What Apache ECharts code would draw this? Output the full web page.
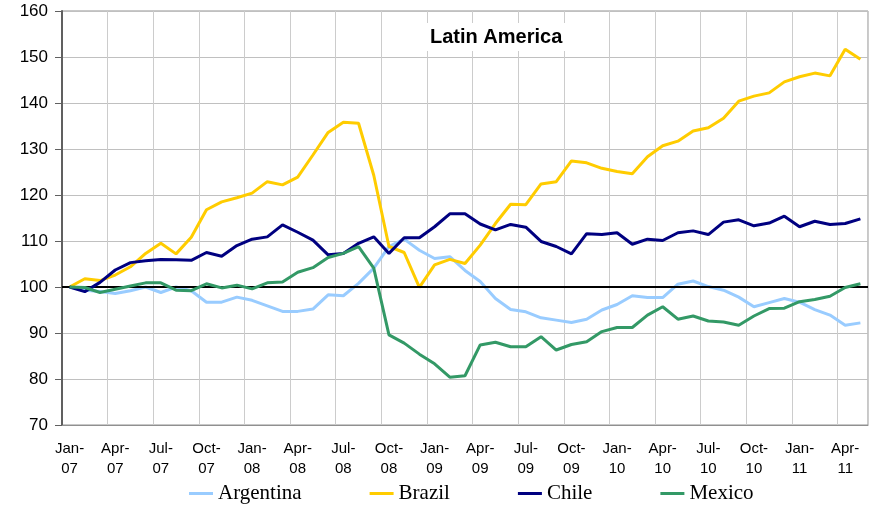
<!DOCTYPE html>
<html>
<head>
    <meta charset="utf-8">
    <title>Latin America</title>
    <script src="https://cdn.jsdelivr.net/npm/echarts@6/dist/echarts.min.js"></script>
</head>
<body style="margin:0;background:#fff;">
    <div id="main" style="width: 877px;height:507px;"></div>
    <script type="text/javascript">
        // monthly index, Jan-07 = 100
        var months = [
            'Jan-07', 'Feb-07', 'Mar-07', 'Apr-07', 'May-07', 'Jun-07', 'Jul-07', 'Aug-07', 'Sep-07', 'Oct-07', 'Nov-07', 'Dec-07',
            'Jan-08', 'Feb-08', 'Mar-08', 'Apr-08', 'May-08', 'Jun-08', 'Jul-08', 'Aug-08', 'Sep-08', 'Oct-08', 'Nov-08', 'Dec-08',
            'Jan-09', 'Feb-09', 'Mar-09', 'Apr-09', 'May-09', 'Jun-09', 'Jul-09', 'Aug-09', 'Sep-09', 'Oct-09', 'Nov-09', 'Dec-09',
            'Jan-10', 'Feb-10', 'Mar-10', 'Apr-10', 'May-10', 'Jun-10', 'Jul-10', 'Aug-10', 'Sep-10', 'Oct-10', 'Nov-10', 'Dec-10',
            'Jan-11', 'Feb-11', 'Mar-11', 'Apr-11', 'May-11'
        ];

        var argentina = [
            100, 99.3, 99.0, 98.6, 99.2, 100, 98.8, 100, 99.2, 96.7, 96.7, 97.8,
            97.1, 95.9, 94.7, 94.7, 95.2, 98.3, 98.1, 100.8, 104.1, 108.8, 110.4, 108.0,
            106.2, 106.6, 103.6, 101.2, 97.5, 95.1, 94.6, 93.3, 92.8, 92.3, 93.0, 95.0,
            96.2, 98.1, 97.7, 97.7, 100.6, 101.3, 100.1, 99.3, 97.8, 95.7, 96.6, 97.5,
            96.7, 95.1, 93.9, 91.7, 92.2
        ];
        var brazil = [
            100, 101.8, 101.4, 102.6, 104.4, 107.3, 109.5, 107.2, 110.8, 116.8, 118.5, 119.4,
            120.4, 122.9, 122.2, 123.9, 128.7, 133.6, 135.8, 135.6, 124.3, 108.8, 107.5, 99.9,
            104.8, 106.0, 105.1, 109.1, 113.8, 118.0, 117.9, 122.4, 122.9, 127.4, 127.0, 125.8,
            125.1, 124.6, 128.3, 130.7, 131.7, 133.9, 134.6, 136.7, 140.4, 141.5, 142.2, 144.6,
            145.7, 146.5, 145.9, 151.7, 149.5
        ];
        var chile = [
            100, 99.0, 101.0, 103.7, 105.3, 105.7, 106.0, 105.9, 105.8, 107.5, 106.7, 109.0,
            110.4, 110.9, 113.5, 111.9, 110.2, 107.0, 107.3, 109.5, 110.9, 107.3, 110.7, 110.7,
            113.1, 115.9, 115.9, 113.7, 112.4, 113.6, 113.0, 109.9, 108.8, 107.2, 111.6, 111.4,
            111.8, 109.3, 110.4, 110.1, 111.8, 112.2, 111.4, 114.1, 114.6, 113.3, 113.9, 115.4,
            113.1, 114.3, 113.6, 113.8, 114.8
        ];
        var mexico = [
            100, 99.9, 98.8, 99.5, 100.2, 100.9, 100.9, 99.3, 99.2, 100.7, 99.8, 100.4,
            99.6, 100.9, 101.1, 103.2, 104.2, 106.4, 107.3, 108.8, 104.1, 89.6, 87.8, 85.4,
            83.3, 80.4, 80.7, 87.4, 88.0, 87.0, 87.0, 89.2, 86.3, 87.5, 88.1, 90.3,
            91.2, 91.2, 93.9, 95.7, 93.0, 93.7, 92.6, 92.4, 91.7, 93.7, 95.3, 95.4,
            96.8, 97.3, 98.0, 99.9, 100.7
        ];

        var seriesNames = ['Argentina', 'Brazil', 'Chile', 'Mexico'];
        var seriesColors = ['#99ccff', '#ffcc00', '#000080', '#339966'];
        var seriesData = [argentina, brazil, chile, mexico];

        var myChart = echarts.init(document.getElementById('main'));

        var series = seriesNames.map(function (name, i) {
            return {
                name: name,
                type: 'line',
                data: seriesData[i],
                symbol: 'none',
                color: seriesColors[i],
                lineStyle: { width: 3, color: seriesColors[i] },
                z: 3 + i
            };
        });
        // black reference line at 100
        series[0].markLine = {
            silent: true,
            symbol: 'none',
            label: { show: false },
            lineStyle: { color: '#000', width: 2, type: 'solid' },
            data: [{ yAxis: 100 }]
        };

        var option = {
            animation: false,
            backgroundColor: '#fff',
            title: {
                text: 'Latin America',
                left: 422,
                top: 23,
                padding: [4, 8],
                backgroundColor: '#fff',
                textStyle: {
                    fontFamily: 'Liberation Sans',
                    fontSize: 20,
                    fontWeight: 'bold',
                    color: '#000'
                }
            },
            legend: {
                left: 189,
                top: 483,
                padding: 0,
                itemWidth: 24,
                itemHeight: 14,
                itemGap: 68,
                textStyle: {
                    fontFamily: 'Liberation Serif',
                    fontSize: 21,
                    color: '#000'
                },
                // line icons instead of boxes
                data: seriesNames.map(function (n, i) {
                    return { name: n, icon: 'path://M0,0 L24,0 L24,3 L0,3 Z', itemStyle: { color: seriesColors[i] } };
                })
            },
            grid: {
                left: 62,
                right: 9,
                top: 11,
                bottom: 82,
                show: true,
                borderColor: '#909090',
                borderWidth: 1
            },
            xAxis: {
                type: 'category',
                data: months,
                boundaryGap: true,
                axisLine: { lineStyle: { color: '#909090', width: 1 } },
                axisTick: { show: false },
                axisLabel: {
                    interval: 2,
                    margin: 14,
                    fontFamily: 'Liberation Sans',
                    fontSize: 15,
                    lineHeight: 20,
                    color: '#000',
                    formatter: function (v) { return v.replace('-', '-\n'); }
                },
                splitLine: {
                    show: true,
                    interval: 2,
                    lineStyle: { color: '#cccccc', width: 1 }
                }
            },
            yAxis: {
                type: 'value',
                min: 70,
                max: 160,
                interval: 10,
                axisLine: { show: true, lineStyle: { color: '#606060', width: 2 } },
                axisTick: { show: true, length: 7, lineStyle: { color: '#606060', width: 1 } },
                axisLabel: {
                    margin: 14,
                    fontFamily: 'Liberation Sans',
                    fontSize: 17,
                    color: '#000'
                },
                splitLine: { lineStyle: { color: '#c0c0c0', width: 1 } }
            },
            series: series
        };

        myChart.setOption(option);
    </script>
</body>
</html>
